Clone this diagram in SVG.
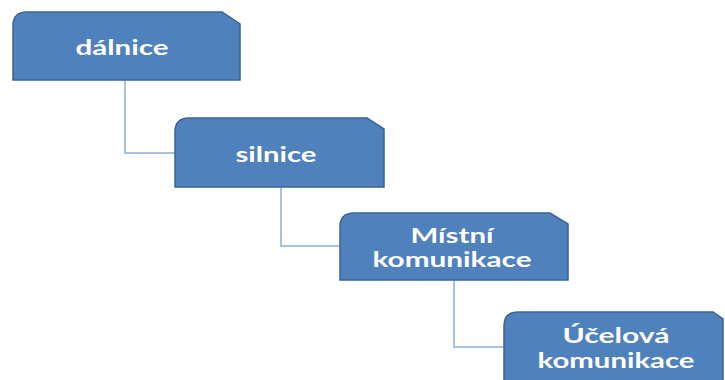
<svg xmlns="http://www.w3.org/2000/svg" width="725" height="380" viewBox="0 0 725 380">
<style>
.box{fill:#4F81BD;stroke:#3B6494;stroke-width:1.5}
.conn{fill:none;stroke:#A9C1E0;stroke-width:2}
.lbl{font-family:Lato,"Open Sans","Liberation Sans",sans-serif;font-weight:bold;font-size:20px;fill:#FFFFFF;text-anchor:middle}
</style>
<rect width="725" height="380" fill="#FFFFFF"/>
<g id="connectors">
<path class="conn" d="M125,80 V153 H175"/>
<path class="conn" d="M281,187 V246 H340"/>
<path class="conn" d="M454,280 V347 H504"/>
</g>
<g id="node-dalnice">
<path class="box" d="M13,80 V26 Q13,12 27,12 H222 L240,24 V80 Z"/>
<text class="lbl" x="122" y="55" textLength="93" lengthAdjust="spacingAndGlyphs">dálnice</text>
</g>
<g id="node-silnice">
<path class="box" d="M175,187 V132 Q175,118 189,118 H367 L384,129 V187 Z"/>
<text class="lbl" x="276" y="162" textLength="81" lengthAdjust="spacingAndGlyphs">silnice</text>
</g>
<g id="node-mistni">
<path class="box" d="M340,280 V227 Q340,213 354,213 H550 L568,224 V280 Z"/>
<text class="lbl" x="452" y="243" font-size="19" textLength="83" lengthAdjust="spacingAndGlyphs">Místní</text>
<text class="lbl" x="452" y="267" font-size="19" textLength="159" lengthAdjust="spacingAndGlyphs">komunikace</text>
</g>
<g id="node-ucelova">
<path class="box" d="M504,385 V326 Q504,312 518,312 H713 L723,319 V385 Z"/>
<text class="lbl" x="616" y="343" font-size="19" textLength="107" lengthAdjust="spacingAndGlyphs">Účelová</text>
<text class="lbl" x="616" y="368" font-size="19" textLength="157" lengthAdjust="spacingAndGlyphs">komunikace</text>
</g>
</svg>
